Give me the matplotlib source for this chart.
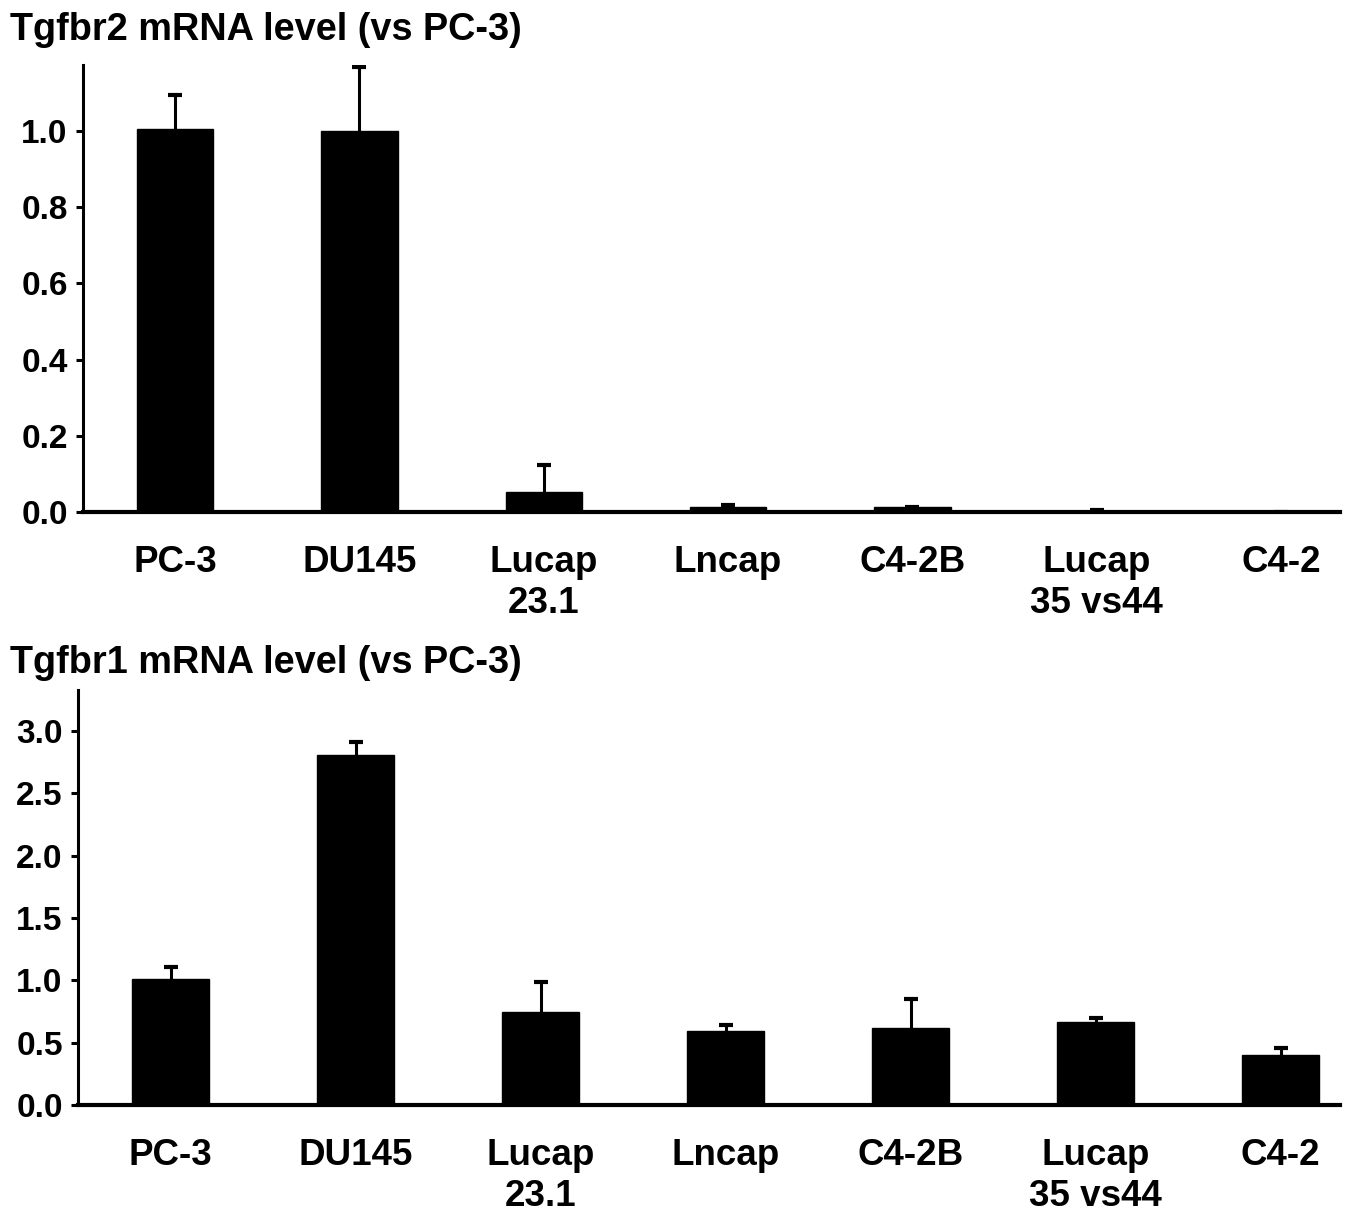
import matplotlib.pyplot as plt
import numpy as np

plt.rcParams['font.family'] = ['Liberation Sans', 'DejaVu Sans']
plt.rcParams['font.weight'] = 'bold'

# cell lines
lines = ['PC-3', 'DU145', 'Lucap\n23.1', 'Lncap', 'C4-2B', 'Lucap\n35 vs44', 'C4-2']

# Tgfbr2 (top)
r2_mean = [1.005, 1.0, 0.052, 0.012, 0.012, 0.002, 0.001]
r2_err = [0.09, 0.168, 0.071, 0.006, 0.001, 0.004, 0.0]

# Tgfbr1 (bottom)
r1_mean = [1.01, 2.81, 0.745, 0.593, 0.617, 0.666, 0.40]
r1_err = [0.10, 0.10, 0.245, 0.047, 0.233, 0.03, 0.06]

fig = plt.figure(figsize=(13.54, 12.12), dpi=100)
W, H = 1354, 1212


def panel(box, means, errs, ylim, yticks):
    l, t, r, b = box
    ax = fig.add_axes([l / W, 1 - b / H, (r - l) / W, (b - t) / H])
    x = np.arange(len(means))
    ax.bar(x, means, width=0.415, color='black', edgecolor='black', zorder=2)
    # upper error only
    _, caps, _ = ax.errorbar(x, means, yerr=[np.zeros(len(errs)), errs], fmt='none',
                             ecolor='black', elinewidth=2.2, capsize=5, capthick=3,
                             zorder=1)
    caps[0].set_visible(False)
    ax.set_xlim(-0.5, 6.32)
    ax.set_ylim(0, ylim)
    ax.set_yticks(yticks)
    ax.set_yticklabels(['%.1f' % v for v in yticks])
    ax.set_xticks(x)
    ax.set_xticklabels(lines, linespacing=1.2)
    ax.spines['top'].set_visible(False)
    ax.spines['right'].set_visible(False)
    ax.spines['left'].set_linewidth(2.2)
    ax.spines['bottom'].set_linewidth(3)
    ax.tick_params(axis='y', labelsize=24, width=2.2, length=5, pad=6)
    ax.tick_params(axis='x', labelsize=26.5, length=0, pad=24)
    for lab in ax.get_xticklabels() + ax.get_yticklabels():
        lab.set_fontweight('bold')
    return ax


panel((83, 65, 1340, 512), r2_mean, r2_err, 1.173,
      [0.0, 0.2, 0.4, 0.6, 0.8, 1.0])
panel((78, 690, 1340, 1105), r1_mean, r1_err, 3.33,
      [0.0, 0.5, 1.0, 1.5, 2.0, 2.5, 3.0])

fig.text(10 / W, 1 - 30 / H, 'Tgfbr2 mRNA level (vs PC-3)', fontsize=27.3,
         fontweight='bold', va='center', ha='left')
fig.text(10 / W, 1 - 663 / H, 'Tgfbr1 mRNA level (vs PC-3)', fontsize=27.3,
         fontweight='bold', va='center', ha='left')

fig.savefig('out.png', dpi=100)
